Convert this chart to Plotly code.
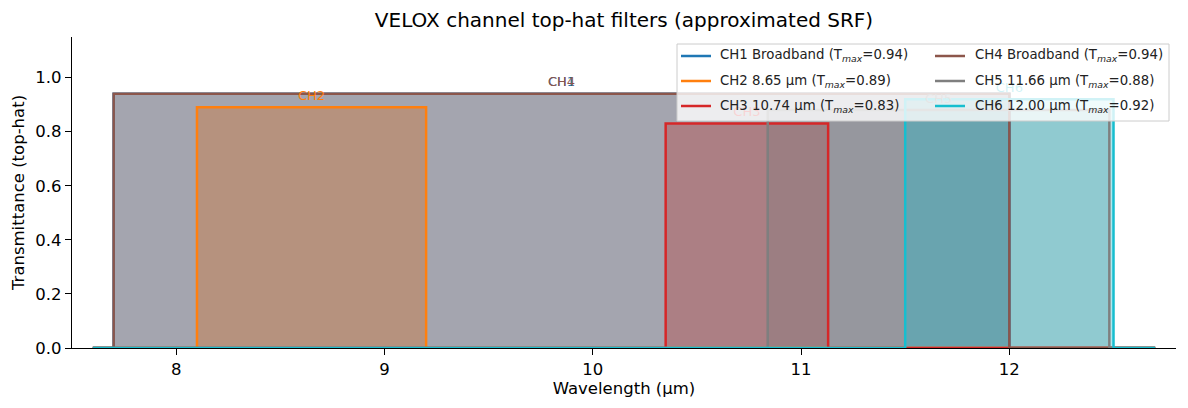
import plotly.graph_objects as go

# ---------------- data ----------------
channel_ids = ["CH1", "CH2", "CH3", "CH4", "CH5", "CH6"]
channel_names = ["CH1 Broadband", "CH2 8.65 µm", "CH3 10.74 µm",
                 "CH4 Broadband", "CH5 11.66 µm", "CH6 12.00 µm"]
band_lo = [7.70, 8.10, 10.35, 7.70, 10.84, 11.50]
band_hi = [12.00, 9.20, 11.13, 12.00, 12.48, 12.50]
t_max = [0.94, 0.89, 0.83, 0.94, 0.88, 0.92]
grid_start = 7.6
grid_end = 12.7
x_ticks = [8, 9, 10, 11, 12]
y_ticks = [0.0, 0.2, 0.4, 0.6, 0.8, 1.0]

colors = ["#1f77b4", "#ff7f0e", "#d62728", "#8c564b", "#7f7f7f", "#17becf"]
FONT = "DejaVu Sans"

W, H = 1188, 408
L, R, T, B = 72, 1176, 37, 348  # plot area in pixels


def px_x(p):
    return (p - L) / (R - L)


def px_y(p):
    return (B - p) / (B - T)


def rgba(hexc, a):
    h = hexc.lstrip("#")
    return "rgba(%d,%d,%d,%.3f)" % (int(h[0:2], 16), int(h[2:4], 16), int(h[4:6], 16), a)


def band_xy(i):
    xs = [grid_start, band_lo[i], band_lo[i], band_hi[i], band_hi[i], grid_end]
    ys = [0, 0, t_max[i], t_max[i], 0, 0]
    return xs, ys


fig = go.Figure()

# fills (below all lines, like matplotlib's zorder)
for i in range(len(channel_ids)):
    xs, ys = band_xy(i)
    fig.add_trace(go.Scatter(
        x=xs, y=ys, mode="lines", line=dict(width=0, color=colors[i]),
        fill="tozeroy", fillcolor=rgba(colors[i], 0.35),
        showlegend=False, hoverinfo="skip",
    ))

# outlines
for i in range(len(channel_ids)):
    xs, ys = band_xy(i)
    fig.add_trace(go.Scatter(
        x=xs, y=ys, mode="lines", line=dict(color=colors[i], width=2.5),
        showlegend=False, hoverinfo="skip",
    ))

# channel labels (as text traces so the legend box covers them)
for i in range(len(channel_ids)):
    fig.add_trace(go.Scatter(
        x=[(band_lo[i] + band_hi[i]) / 2], y=[t_max[i] + 0.015],
        mode="text", text=[channel_ids[i]], textposition="top center",
        textfont=dict(family=FONT, size=13, color=colors[i]),
        showlegend=False, hoverinfo="skip",
    ))

shapes = []
annotations = []

# legend box
shapes.append(dict(
    type="rect", xref="paper", yref="paper",
    x0=px_x(677), x1=px_x(1169), y0=px_y(121), y1=px_y(44),
    fillcolor="rgba(255,255,255,0.8)", line=dict(color="#cccccc", width=1),
    layer="above",
))

col_line_x = [681, 935]
col_text_x = [720, 975]
row_y = [56, 81, 106]
for i in range(len(channel_ids)):
    c, r = divmod(i, 3)
    yy = px_y(row_y[r])
    shapes.append(dict(
        type="line", xref="paper", yref="paper",
        x0=px_x(col_line_x[c]), x1=px_x(col_line_x[c] + 30), y0=yy, y1=yy,
        line=dict(color=colors[i], width=2.5), layer="above",
    ))
    annotations.append(dict(
        xref="paper", yref="paper", x=px_x(col_text_x[c]) - 0.002, y=yy,
        xanchor="left", yanchor="middle", showarrow=False,
        text="%s (T<sub><i>max</i></sub>=%.2f)" % (channel_names[i], t_max[i]),
        font=dict(family=FONT, size=13.3, color="#222222"),
    ))

fig.update_layout(
    width=W, height=H,
    margin=dict(l=L, r=W - R, t=T, b=H - B),
    paper_bgcolor="white", plot_bgcolor="white",
    title=dict(text="VELOX channel top-hat filters (approximated SRF)",
               x=(L + R) / 2 / W, xanchor="center", y=1 - 20 / H, yanchor="middle",
               font=dict(family=FONT, size=20, color="black")),
    font=dict(family=FONT, color="black"),
    shapes=shapes, annotations=annotations,
    showlegend=False,
)
fig.update_xaxes(
    range=[7.5, 12.8], tickvals=x_ticks, ticktext=[str(v) for v in x_ticks],
    showline=True, linecolor="black", linewidth=1.3, mirror=False,
    ticks="outside", ticklen=6, tickwidth=1.3, tickcolor="black",
    showgrid=False, zeroline=False,
    tickfont=dict(family=FONT, size=16.5),
    title=dict(text="Wavelength (µm)", font=dict(family=FONT, size=16.5), standoff=4),
)
fig.update_yaxes(
    range=[0, 1.15], tickvals=y_ticks, ticktext=["%.1f" % v for v in y_ticks],
    showline=True, linecolor="black", linewidth=1.3, mirror=False,
    ticks="outside", ticklen=6, tickwidth=1.3, tickcolor="black",
    showgrid=False, zeroline=False,
    tickfont=dict(family=FONT, size=16.5),
    title=dict(text="Transmittance (top-hat)", font=dict(family=FONT, size=16.5), standoff=6),
)

fig.write_html("out.html")
